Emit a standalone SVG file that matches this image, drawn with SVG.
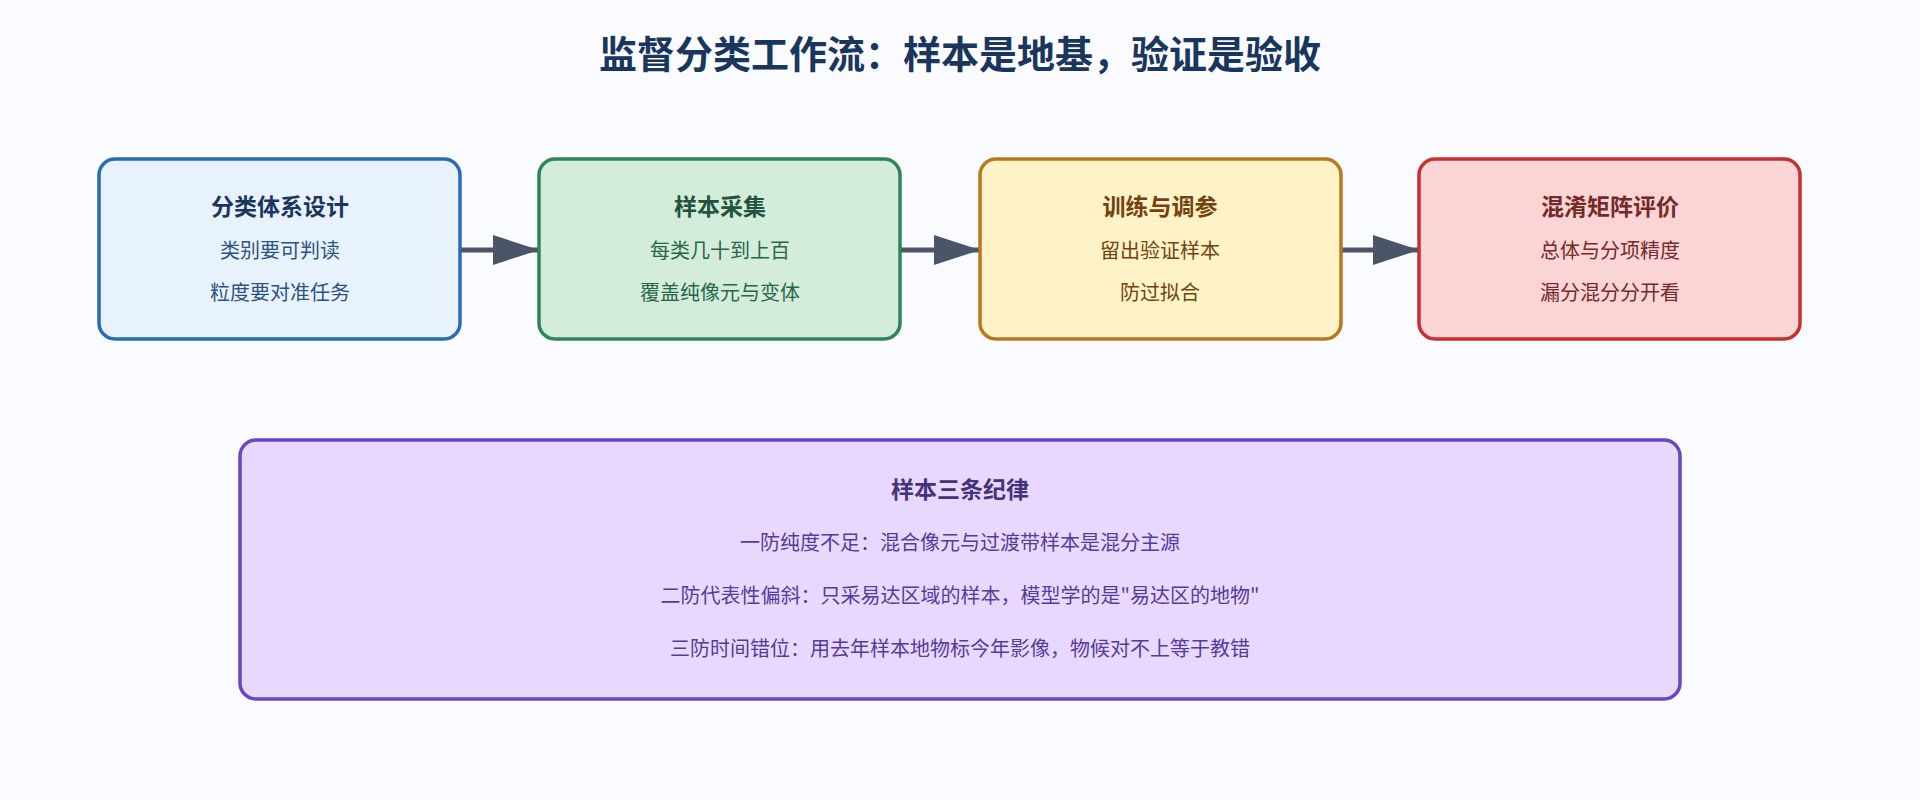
<svg xmlns="http://www.w3.org/2000/svg" width="1920" height="800" viewBox="0 0 1920 800">
<style>
text{font-family:"Noto Sans CJK SC","Noto Sans",sans-serif;text-anchor:middle}
.t{font-size:23px;font-weight:bold}
.s{font-size:20px}
.box{stroke-width:3.5}
</style>
<defs><marker id="a" markerWidth="10" markerHeight="8" refX="9" refY="4" orient="auto" markerUnits="userSpaceOnUse" viewBox="0 0 10 8"><path d="M0,0L10,4L0,8z" fill="#4a5568"/></marker>
<marker id="ah" viewBox="0 0 10 8" refX="10" refY="4" markerWidth="46" markerHeight="30" markerUnits="userSpaceOnUse" orient="auto" preserveAspectRatio="none"><path d="M0,0L10,4L0,8z" fill="#4a5568"/></marker></defs>
<rect width="1920" height="800" fill="#f9fbfe"/>
<text x="960" y="68" font-size="38" font-weight="bold" fill="#1a365d">监督分类工作流：样本是地基，验证是验收</text>
<g id="connectors" stroke="#4a5568" stroke-width="5" fill="none">
<line x1="461" y1="250" x2="539" y2="250" marker-end="url(#ah)"/>
<line x1="901" y1="250" x2="980" y2="250" marker-end="url(#ah)"/>
<line x1="1341" y1="250" x2="1419" y2="250" marker-end="url(#ah)"/>
</g>
<g id="n1"><rect class="box" x="99" y="159" width="361" height="180" rx="16" fill="#e8f2fd" stroke="#2b6cb0"/>
<text class="t" x="280" y="215" fill="#1a365d">分类体系设计</text><text class="s" x="280" y="258" fill="#2c5282">类别要可判读</text><text class="s" x="280" y="300" fill="#2c5282">粒度要对准任务</text></g>
<g id="n2"><rect class="box" x="539" y="159" width="361" height="180" rx="16" fill="#d4eddb" stroke="#2f855a"/>
<text class="t" x="720" y="215" fill="#22543d">样本采集</text><text class="s" x="720" y="258" fill="#276749">每类几十到上百</text><text class="s" x="720" y="300" fill="#276749">覆盖纯像元与变体</text></g>
<g id="n3"><rect class="box" x="980" y="159" width="361" height="180" rx="16" fill="#fef3c7" stroke="#b7791f"/>
<text class="t" x="1160" y="215" fill="#744210">训练与调参</text><text class="s" x="1160" y="258" fill="#744210">留出验证样本</text><text class="s" x="1160" y="300" fill="#744210">防过拟合</text></g>
<g id="n4"><rect class="box" x="1419" y="159" width="381" height="180" rx="16" fill="#fbd5d5" stroke="#c53030"/>
<text class="t" x="1610" y="215" fill="#742a2a">混淆矩阵评价</text><text class="s" x="1610" y="258" fill="#742a2a">总体与分项精度</text><text class="s" x="1610" y="300" fill="#742a2a">漏分混分分开看</text></g>
<g id="n5"><rect class="box" x="240" y="440" width="1440" height="259" rx="16" fill="#e9d8fd" stroke="#6b46c1"/>
<text class="t" x="960" y="498" fill="#44337a">样本三条纪律</text>
<text class="s" x="960" y="550" fill="#553c9a">一防纯度不足：混合像元与过渡带样本是混分主源</text>
<text class="s" x="960" y="603" fill="#553c9a">二防代表性偏斜：只采易达区域的样本，模型学的是"易达区的地物"</text>
<text class="s" x="960" y="656" fill="#553c9a">三防时间错位：用去年样本地物标今年影像，物候对不上等于教错</text></g>
</svg>
